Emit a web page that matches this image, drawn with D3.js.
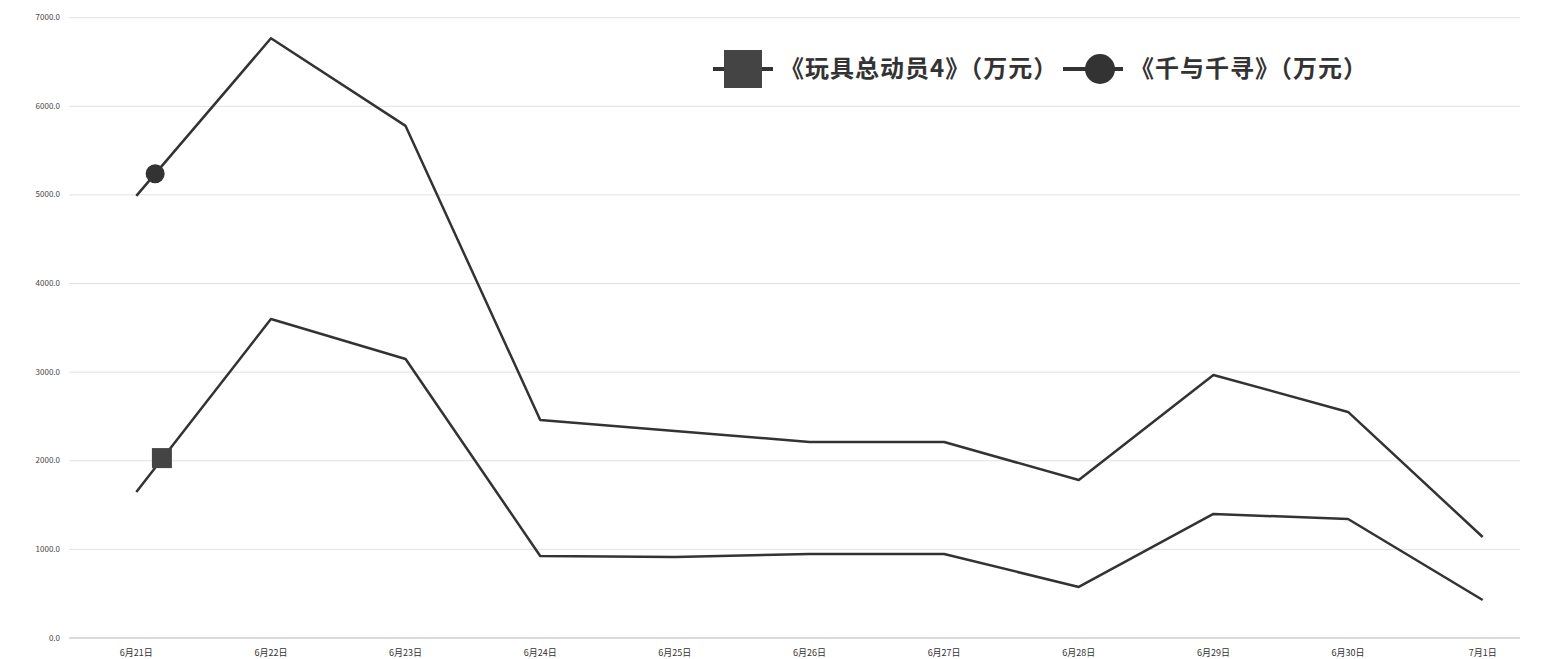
<!DOCTYPE html>
<html>
<head>
<meta charset="utf-8">
<script src="https://cdn.jsdelivr.net/npm/d3@7"></script>
<style>
	body { margin: 0; background: #fff; }
	svg { display: block; font-family: "Noto Sans CJK SC", "Noto Sans", sans-serif; }
</style>
</head>
<body>
<svg id="chart"></svg>
<script>
// box office per day, 万元
const days = ["6月21日", "6月22日", "6月23日", "6月24日", "6月25日", "6月26日", "6月27日", "6月28日", "6月29日", "6月30日", "7月1日"];
const toyStory = [1648, 3600, 3149, 925, 914, 948, 948, 576, 1400, 1343, 429];
const spirited = [4989, 6768, 5779, 2460, 2336, 2212, 2212, 1783, 2968, 2551, 1140];
const seriesNames = ["《玩具总动员4》（万元）", "《千与千寻》（万元）"];
const yTicks = [0, 1000, 2000, 3000, 4000, 5000, 6000, 7000];

const width = 1543;
const height = 659;
const plotLeft = 69, plotRight = 1550, plotTop = 17.7, plotBottom = 638;

const svg = d3.select("#chart").attr("width", width).attr("height", height);

const x = d3.scalePoint().domain(days).range([plotLeft, plotRight]).padding(0.5);
const y = d3.scaleLinear().domain([0, 7000]).range([plotBottom, plotTop]);

// grid
svg.append("g")
	.selectAll("line")
	.data(yTicks)
	.enter()
	.append("line")
	.attr("x1", plotLeft)
	.attr("x2", 1520)
	.attr("y1", (d) => y(d))
	.attr("y2", (d) => y(d))
	.style("stroke", (d) => (d === 0 ? "#cfcfcf" : "#e2e2e2"))
	.style("stroke-width", (d) => (d === 0 ? "1.5px" : "1px"));

// y labels
svg.append("g")
	.selectAll("text")
	.data(yTicks)
	.enter()
	.append("text")
	.attr("x", 60)
	.attr("y", (d) => y(d))
	.attr("dy", "0.32em")
	.attr("text-anchor", "end")
	.text((d) => d3.format(".1f")(d))
	.style("font-size", "8px")
	.style("fill", "#444");

// x labels
svg.append("g")
	.selectAll("text")
	.data(days)
	.enter()
	.append("text")
	.attr("x", (d) => x(d))
	.attr("y", 653)
	.attr("dy", "0.32em")
	.attr("text-anchor", "middle")
	.text((d) => d)
	.style("font-size", "9px")
	.style("fill", "#333");

const line = d3.line()
	.x((d, i) => x(days[i]))
	.y((d) => y(d));

[toyStory, spirited].forEach((vals) => {
	svg.append("path")
		.datum(vals)
		.attr("d", line)
		.style("fill", "none")
		.style("stroke", "#333")
		.style("stroke-width", "2.5px")
		.style("stroke-linejoin", "round");
});

// markers sit along the first segment in the original
const along = (vals, t) => {
	const x0 = x(days[0]), x1 = x(days[1]);
	return [x0 + (x1 - x0) * t, y(vals[0] + (vals[1] - vals[0]) * t)];
};
const sq = along(toyStory, 0.19);
svg.append("rect")
	.attr("x", sq[0] - 10)
	.attr("y", sq[1] - 11)
	.attr("width", 20)
	.attr("height", 20)
	.style("fill", "#444");
const ci = along(spirited, 0.14);
svg.append("circle")
	.attr("cx", ci[0])
	.attr("cy", ci[1])
	.attr("r", 9.5)
	.style("fill", "#333");

// legend
const legend = svg.append("g");
const items = [
	{ name: seriesNames[0], lx: 713, shape: "rect" },
	{ name: seriesNames[1], lx: 1063, shape: "circle" },
];
items.forEach((it) => {
	const cx = it.lx + 30;
	const cy = 69;
	legend.append("line")
		.attr("x1", it.lx)
		.attr("x2", it.lx + 60)
		.attr("y1", cy)
		.attr("y2", cy)
		.style("stroke", "#333")
		.style("stroke-width", "4px");
	if (it.shape === "rect") {
		legend.append("rect")
			.attr("x", cx - 19)
			.attr("y", cy - 19)
			.attr("width", 38)
			.attr("height", 38)
			.style("fill", "#444");
	} else {
		legend.append("circle")
			.attr("cx", cx + 7)
			.attr("cy", cy)
			.attr("r", 15)
			.style("fill", "#333");
	}
	legend.append("text")
		.attr("x", it.lx + 67)
		.attr("y", cy)
		.attr("dy", "0.35em")
		.text(it.name)
		.style("font-size", "24px")
		.style("font-weight", "700")
		.style("letter-spacing", "1px")
		.style("fill", "#333");
});
</script>
</body>
</html>
